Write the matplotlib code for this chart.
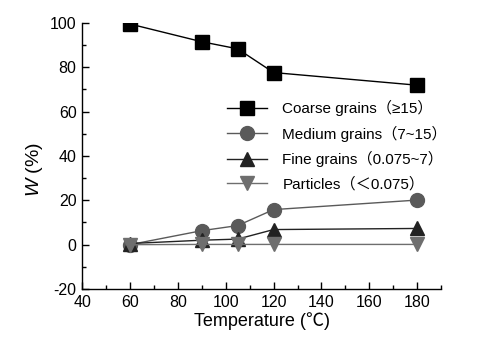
import matplotlib
matplotlib.use("Agg")
import matplotlib.pyplot as plt
from matplotlib.ticker import MultipleLocator

plt.rcParams['font.family'] = ['Liberation Sans', 'Noto Sans CJK SC', 'DejaVu Sans']
plt.rcParams['axes.unicode_minus'] = False
plt.rcParams['mathtext.fontset'] = 'custom'
plt.rcParams['mathtext.it'] = 'Liberation Sans:italic'
plt.rcParams['mathtext.rm'] = 'Liberation Sans'

temperature = [60, 90, 105, 120, 180]
coarse = [99.5, 91.5, 88.3, 77.6, 71.9]
medium = [0.0, 6.3, 8.6, 15.8, 20.1]
fine = [0.5, 2.0, 2.5, 6.8, 7.3]
particles = [0.0, 0.1, 0.1, 0.1, 0.1]

labels = ['Coarse grains（≥15）', 'Medium grains（7~15）',
          'Fine grains（0.075~7）', 'Particles（＜0.075）']

fig = plt.figure(figsize=(4.8, 3.39), dpi=100)
ax = fig.add_axes([0.171, 0.1475, 0.748, 0.785])

ax.plot(temperature, coarse, color='black', lw=1, marker='s', ms=9.5,
        mfc='black', mec='black', label=labels[0], zorder=5)
ax.plot(temperature, medium, color='#5a5a5a', lw=1, marker='o', ms=10,
        mfc='#5a5a5a', mec='#5a5a5a', label=labels[1], zorder=3)
ax.plot(temperature, fine, color='#222222', lw=1, marker='^', ms=10,
        mfc='#222222', mec='#222222', label=labels[2], zorder=4)
ax.plot(temperature, particles, color='#6e6e6e', lw=1, marker='v', ms=10,
        mfc='#6e6e6e', mec='#6e6e6e', label=labels[3], zorder=4)

ax.set_xlim(40, 190)
ax.set_ylim(-20, 100)
ax.xaxis.set_major_locator(MultipleLocator(20))
ax.xaxis.set_minor_locator(MultipleLocator(10))
ax.yaxis.set_major_locator(MultipleLocator(20))
ax.yaxis.set_minor_locator(MultipleLocator(10))
ax.tick_params(which='both', direction='in', labelsize=11.5, width=1)
ax.tick_params(which='major', length=5, pad=4)
ax.tick_params(which='minor', length=3)
for s in ['top', 'right']:
    ax.spines[s].set_visible(False)
for s in ['left', 'bottom']:
    ax.spines[s].set_linewidth(1)

ax.set_xlabel('Temperature (℃)', fontsize=13, labelpad=2)
ax.set_ylabel(r'$\mathit{W}$ (%)', fontsize=14)
ax.yaxis.set_label_coords(-0.103, 0.45)

ax.legend(loc='upper left', bbox_to_anchor=(0.405, 0.71), frameon=False,
          fontsize=11, borderpad=0, borderaxespad=0, handlelength=2.6,
          handletextpad=1.0, labelspacing=0.62)

fig.savefig('out.png', dpi=100)
